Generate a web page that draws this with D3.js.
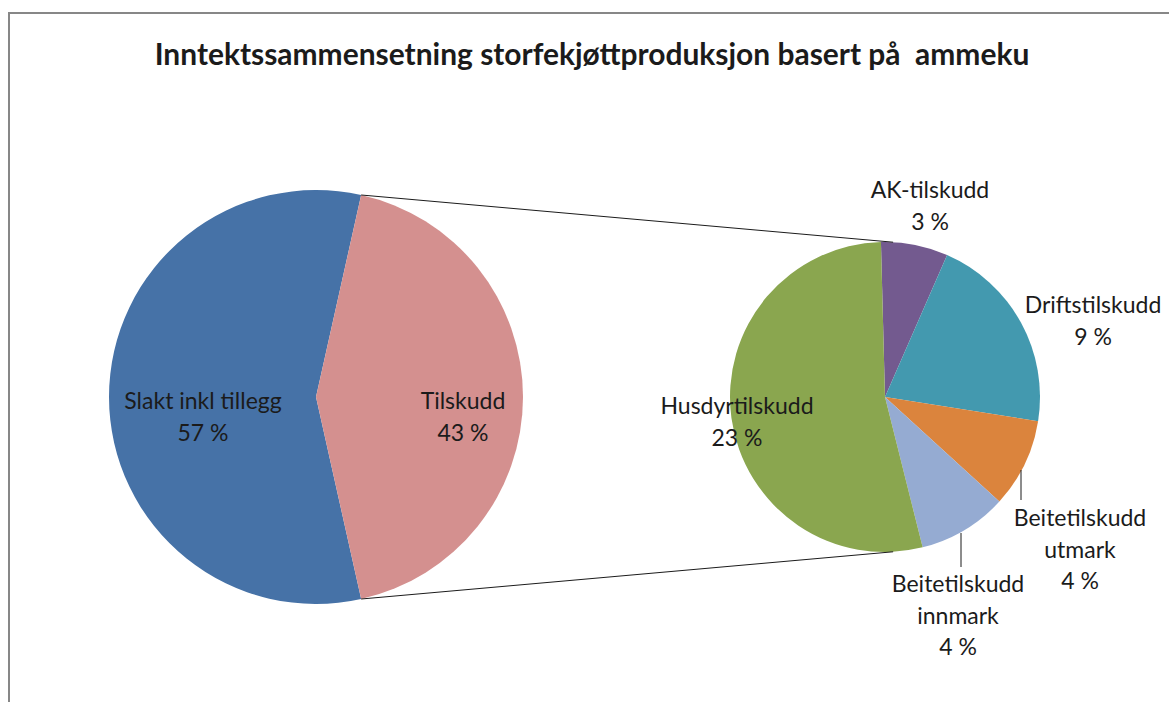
<!DOCTYPE html>
<html><head><meta charset="utf-8">
<script src="https://cdn.jsdelivr.net/npm/d3@7"></script>
<style>
html,body{margin:0;padding:0;background:#fff;}
svg{display:block;}
text{font-family:Lato,"Open Sans",sans-serif;fill:#1b1b1b;}
</style></head>
<body><svg id="c" width="1169" height="702"></svg>
<script>
const title = "Inntektssammensetning storfekjøttproduksjon basert på  ammeku";
const mainCategories = ["Slakt inkl tillegg", "Tilskudd"];
const mainValues = [57, 43];
const subCategories = ["AK-tilskudd", "Driftstilskudd", "Beitetilskudd utmark", "Beitetilskudd innmark", "Husdyrtilskudd"];
const subValues = [3, 9, 4, 4, 23];
const subLabelLines = [["AK-tilskudd"], ["Driftstilskudd"], ["Beitetilskudd", "utmark"], ["Beitetilskudd", "innmark"], ["Husdyrtilskudd"]];

const mainColors = ["#4672A7", "#D4908F"];
const subColors = ["#735A8F", "#4399AF", "#DB843D", "#95ABD2", "#8AA64F"];

const svg = d3.select("#c");

// frame
svg.append("path").attr("d", "M9,702 L9,13 L1169,13").attr("fill", "none")
  .attr("stroke", "#878787").attr("stroke-width", 2);

// title
const t = svg.append("text").attr("x", 592).attr("y", 65).attr("text-anchor", "middle")
  .attr("font-weight", "bold").attr("font-size", 24).style("white-space", "pre")
  .attr("xml:space", "preserve").text(title);
const tw = t.node().getComputedTextLength();
t.attr("font-size", 24 * 875 / tw);

const rad = d => d * Math.PI / 180;
const total = d3.sum(mainValues);
const tilFrac = mainValues[1] / total;

// main pie
const mc = {x: 316, y: 397}, mr = 207;
const mainPie = d3.pie().sort(null).startAngle(Math.PI / 2 + tilFrac * Math.PI)
  .endAngle(Math.PI / 2 + tilFrac * Math.PI + 2 * Math.PI);
const mainArcs = mainPie(mainValues);
const mainArc = d3.arc().innerRadius(0).outerRadius(mr);
const gMain = svg.append("g").attr("transform", `translate(${mc.x},${mc.y})`);
gMain.selectAll("path").data(mainArcs).join("path")
  .attr("d", mainArc).attr("fill", (d, i) => mainColors[i]);

// secondary pie
const sc = {x: 885, y: 397}, sr = 155;
const subPie = d3.pie().sort(null).startAngle(rad(-1.5)).endAngle(rad(358.5));
const subArcs = subPie(subValues);
const subArc = d3.arc().innerRadius(0).outerRadius(sr);
const gSub = svg.append("g").attr("transform", `translate(${sc.x},${sc.y})`);
gSub.selectAll("path").data(subArcs).join("path")
  .attr("d", subArc).attr("fill", (d, i) => subColors[i]);

// connector lines
const til = mainArcs[1];
const pt = (c, r, a) => [c.x + r * Math.sin(a), c.y - r * Math.cos(a)];
const m1 = pt(mc, mr, til.startAngle), m2 = pt(mc, mr, til.endAngle);
const s1 = pt(sc, sr, rad(3)), s2 = pt(sc, sr, rad(177));
svg.append("line").attr("x1", m1[0]).attr("y1", m1[1]).attr("x2", s1[0]).attr("y2", s1[1])
  .attr("stroke", "#1b1b1b").attr("stroke-width", 1);
svg.append("line").attr("x1", m2[0]).attr("y1", m2[1]).attr("x2", s2[0]).attr("y2", s2[1])
  .attr("stroke", "#1b1b1b").attr("stroke-width", 1);

// labels
const fs = 23, lh = 31.5;
function label(x, yFirst, lines) {
  const g = svg.append("text").attr("text-anchor", "middle").attr("font-size", fs);
  lines.forEach((l, i) => g.append("tspan").attr("x", x).attr("y", yFirst + i * lh).text(l));
}
const pct = v => Math.round(v / total * 100) + " %";
const mainLabelPos = [{dx: -113, y: 409}, {dx: 147, y: 409}];
mainCategories.forEach((c, i) => label(mc.x + mainLabelPos[i].dx, mainLabelPos[i].y, [c, pct(mainValues[i])]));

const subLabelPos = [{x: 930, y: 198}, {x: 1093, y: 313}, {x: 1080, y: 526}, {x: 958, y: 592}, {x: 737, y: 414}];
subCategories.forEach((c, i) => label(subLabelPos[i].x, subLabelPos[i].y, [...subLabelLines[i], pct(subValues[i])]));

// leader lines
const leaders = [[1021, 470, 1021, 500], [961, 533, 961, 567]];
leaders.forEach(l => svg.append("line").attr("x1", l[0]).attr("y1", l[1]).attr("x2", l[2]).attr("y2", l[3])
  .attr("stroke", "#1b1b1b").attr("stroke-width", 1));
</script></body></html>
